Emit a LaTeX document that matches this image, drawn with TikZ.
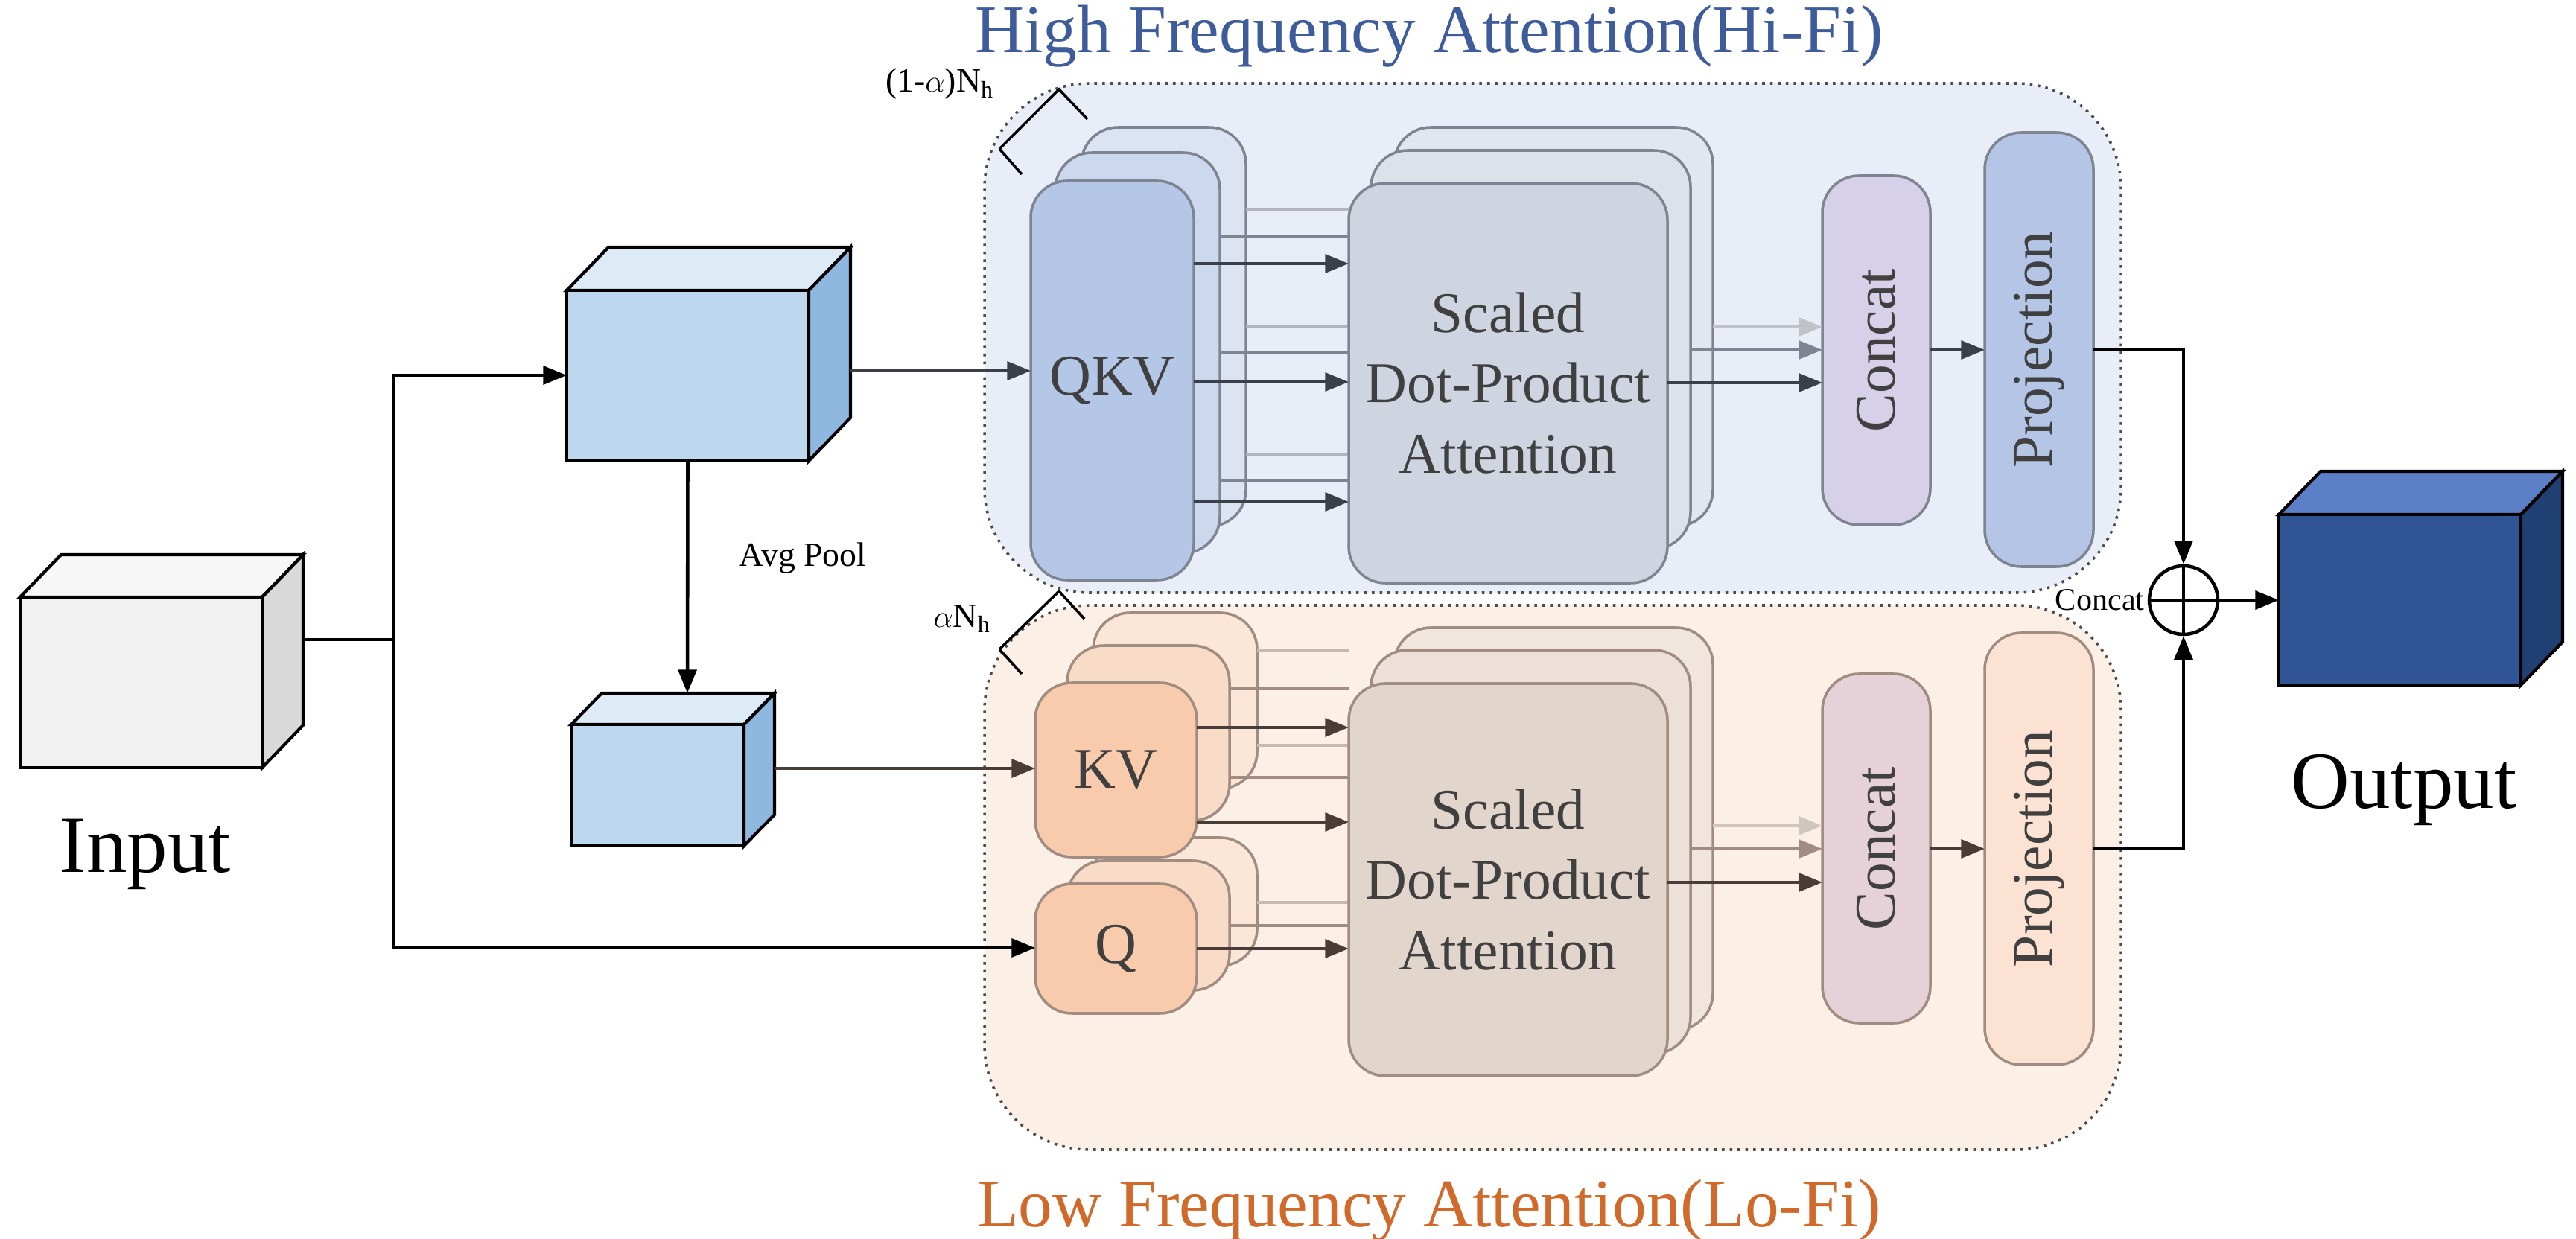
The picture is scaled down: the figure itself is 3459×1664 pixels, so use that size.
\documentclass[tikz,border=0pt]{standalone}
\usepackage{fontspec}
\setmainfont{Liberation Serif}
\usetikzlibrary{arrows.meta}
\definecolor{hibg}{HTML}{E8EDF7}
\definecolor{lobg}{HTML}{FCEFE6}
\definecolor{hiA}{HTML}{B4C7E7}
\definecolor{hiB}{HTML}{CCD8EE}
\definecolor{hiC}{HTML}{DCE3F2}
\definecolor{atA}{HTML}{CFD5E0}
\definecolor{atB}{HTML}{DCE1EA}
\definecolor{atC}{HTML}{E1E6EF}
\definecolor{loA}{HTML}{F7CBAC}
\definecolor{loB}{HTML}{F9DCC8}
\definecolor{loC}{HTML}{FBE6D8}
\definecolor{alA}{HTML}{E2D5CC}
\definecolor{alB}{HTML}{EDE0D8}
\definecolor{alC}{HTML}{F1E6DE}
\definecolor{hicon}{HTML}{D6D0E8}
\definecolor{hipro}{HTML}{B4C5E6}
\definecolor{locon}{HTML}{E6D1D8}
\definecolor{lopro}{HTML}{FBE2D3}
\definecolor{hiline}{HTML}{7F8590}
\definecolor{loline}{HTML}{A08C80}
\definecolor{hidark}{HTML}{3A3F4A}
\definecolor{lodark}{HTML}{4A3C36}
\definecolor{txt}{HTML}{404040}
\definecolor{hititle}{HTML}{3E5C9C}
\definecolor{lotitle}{HTML}{D0692A}
\definecolor{inF}{HTML}{F2F2F2}
\definecolor{inT}{HTML}{F7F7F7}
\definecolor{inS}{HTML}{D9D9D9}
\definecolor{bF}{HTML}{BDD7EE}
\definecolor{bT}{HTML}{DDEBF7}
\definecolor{bS}{HTML}{8FB8E0}
\definecolor{oF}{HTML}{2F5597}
\definecolor{oT}{HTML}{5B80C8}
\definecolor{oS}{HTML}{203F73}
\newcommand\bx[7]{\node[#6, minimum width={(#4-#2)*0.01cm}, minimum height={(#5-#3)*0.01cm}] (#1) at ({(#2+#4)/2},{(#3+#5)/2}) {#7};}
% x1 y1 x2 y2 dx dy prefix name
\newcommand\mycube[8]{%
 \draw[line width=1.2pt, fill=#7T] (#1,#2) -- ++(#5,-#6) -- ++({#3-#1},0) -- (#3,#2) -- cycle;
 \draw[line width=1.2pt, fill=#7S] (#3,#2) -- ++(#5,-#6) -- ++(0,{#4-#2}) -- (#3,#4) -- cycle;
 \bx{#8}{#1}{#2}{#3}{#4}{draw,line width=1.2pt,fill=#7F,inner sep=0pt,outer sep=0pt}{}}
\tikzset{
 rb/.style={draw=hiline, line width=1pt, rounded corners=14pt, inner sep=0pt, outer sep=0pt, text=txt, font=\fontsize{22}{27}\selectfont, align=center},
 lb/.style={rb, draw=loline},
 plain/.style={inner sep=0pt, outer sep=0pt},
 arr/.style={-{Triangle[length=9pt,width=7pt]}, line width=1.3pt},
 harr/.style={arr, hidark},
 larr/.style={arr, lodark},
 thin1/.style={line width=1pt},
 big label/.style={font=\fontsize{31}{36}\selectfont},
 title/.style={font=\fontsize{26}{31}\selectfont},
}
\begin{document}
\begin{tikzpicture}[x=0.01cm,y=-0.01cm]
\useasboundingbox (0,0) rectangle (3459,1664);
% backgrounds
\bx{hi}{1322}{112}{2848}{796}{draw=black!70,dotted,line width=1pt,fill=hibg,rounded corners=40pt,plain}{}
\bx{lo}{1322}{813}{2848}{1544}{draw=black!70,dotted,line width=1pt,fill=lobg,rounded corners=40pt,plain}{}
\node[title,text=hititle] (tHi) at (1919,49) {High Frequency Attention(Hi-Fi)};
\node[title,text=lotitle] (tLo) at (1919,1626) {Low Frequency Attention(Lo-Fi)};

% cubes
\mycube{27}{802}{352}{1031}{55}{57}{in}{inp}
\node[big label] (inpL) at (195,1147) {Input};
\mycube{761}{390}{1086}{619}{56}{58}{b}{big}
\mycube{767}{973}{999}{1136}{41}{42}{b}{small}
\mycube{3060}{691}{3385}{920}{56}{58}{o}{out}
\node[big label] (outL) at (3228,1061) {Output};

% ---------- Hi-Fi -------------
\bx{at3}{1872}{171}{2300}{707}{rb,fill=atC}{}
\bx{at2}{1841}{202}{2270}{737}{rb,fill=atB}{}
\bx{q3}{1452}{171}{1673}{707}{rb,fill=hiC}{}
\bx{q2}{1417}{205}{1638}{743}{rb,fill=hiB}{}
\foreach \y in {281,439,611} \draw[thin1,hiline!60] (q3.east |- 0,\y) -- (1811,\y);
\foreach \y in {318,474,645} \draw[thin1,hiline] (q2.east |- 0,\y) -- (1811,\y);
\bx{at}{1811}{246}{2239}{783}{rb,fill=atA}{Scaled\\Dot-Product\\Attention}
\bx{qkv}{1384}{243}{1603}{779}{rb,fill=hiA}{QKV}
\foreach \y in {354,513,674} \draw[harr] (qkv.east |- 0,\y) -- (at.west |- 0,\y);
\bx{hcon}{2447}{236}{2592}{705}{rb,fill=hicon}{}
\node[rotate=90,text=txt,font=\fontsize{22}{27}\selectfont] at (hcon) {Concat};
\bx{hpro}{2665}{178}{2811}{761}{rb,fill=hipro}{}
\node[rotate=90,text=txt,font=\fontsize{22}{27}\selectfont] at (hpro) {Projection};
\draw[arr,hiline!50] (at3.east |- 0,439) -- (hcon.west |- 0,439);
\draw[arr,hiline] (at2.east |- 0,470) -- (hcon.west |- 0,470);
\draw[harr] (at.east |- 0,514) -- (hcon.west |- 0,514);
\draw[harr] (hcon.east |- 0,470) -- (hpro.west |- 0,470);
\draw[thin1] (1342,200) -- (1372,234);
\draw[thin1] (1460,160) -- (1422,120) -- (1342,200);
\node[font=\fontsize{13}{15}\selectfont] (nh) at (1262,113) {(1-$\alpha$)N$_\mathrm{h}$};

% ---------- Lo-Fi -------------
\bx{al3}{1872}{843}{2300}{1383}{lb,fill=alC}{}
\bx{al2}{1841}{873}{2270}{1415}{lb,fill=alB}{}
\bx{kv3}{1468}{823}{1688}{1059}{lb,fill=loC}{}
\bx{kv2}{1433}{867}{1651}{1102}{lb,fill=loB}{}
\bx{qq3}{1468}{1125}{1688}{1297}{lb,fill=loC}{}
\bx{qq2}{1433}{1156}{1651}{1330}{lb,fill=loB}{}
\foreach \y in {874,1001} \draw[thin1,loline!60] (kv3.east |- 0,\y) -- (1811,\y);
\foreach \y in {925,1044} \draw[thin1,loline] (kv2.east |- 0,\y) -- (1811,\y);
\draw[thin1,loline!60] (qq3.east |- 0,1212) -- (1811,1212);
\draw[thin1,loline] (qq2.east |- 0,1243) -- (1811,1243);
\bx{al}{1811}{918}{2239}{1445}{lb,fill=alA}{Scaled\\Dot-Product\\Attention}
\bx{kv}{1390}{917}{1607}{1151}{lb,fill=loA}{KV}
\bx{qq}{1390}{1187}{1607}{1361}{lb,fill=loA}{Q}
\foreach \y in {977,1104} \draw[larr] (kv.east |- 0,\y) -- (al.west |- 0,\y);
\draw[larr] (qq.east |- 0,1274) -- (al.west |- 0,1274);
\bx{lcon}{2447}{905}{2592}{1374}{lb,fill=locon}{}
\node[rotate=90,text=txt,font=\fontsize{22}{27}\selectfont] at (lcon) {Concat};
\bx{lpro}{2665}{850}{2811}{1430}{lb,fill=lopro}{}
\node[rotate=90,text=txt,font=\fontsize{22}{27}\selectfont] at (lpro) {Projection};
\draw[arr,loline!50] (al3.east |- 0,1109) -- (lcon.west |- 0,1109);
\draw[arr,loline] (al2.east |- 0,1140) -- (lcon.west |- 0,1140);
\draw[larr] (al.east |- 0,1185) -- (lcon.west |- 0,1185);
\draw[larr] (lcon.east |- 0,1140) -- (lpro.west |- 0,1140);
\draw[thin1] (1342,872) -- (1372,905);
\draw[thin1] (1456,831) -- (1422,794) -- (1342,872);
\node[font=\fontsize{13}{15}\selectfont] (an) at (1292,831) {$\alpha$N$_\mathrm{h}$};

% ---------- merge -------------
\node[circle,draw,line width=1.3pt,fill=white,minimum size=92*0.01cm,inner sep=0pt] (plus) at (2932,806) {};
\draw[line width=1.3pt] (plus.north) -- (plus.south) (plus.west) -- (plus.east);
\node[anchor=east,font=\fontsize{12}{14}\selectfont,inner sep=1pt] (cl) at (plus.west) {Concat};
\draw[arr] (hpro.east |- 0,470) -| (plus.north);
\draw[arr] (lpro.east |- 0,1140) -| (plus.south);
\draw[arr] (plus.east) -- (out.west |- plus.east);

% ---------- input side -------------
\coordinate (jn) at (528,859);
\draw[line width=1.2pt] (407,859) -- (jn);
\draw[arr] (jn) |- (big.west |- 0,504);
\draw[arr] (jn) |- (qq.west |- 0,1273);
\draw[arr] (big.south) -- (923,931);
\node[font=\fontsize{13}{15}\selectfont] (avg) at (1078,750) {Avg Pool};
\draw[harr] (1142,498) -- (qkv.west |- 0,498);
\draw[arr,lodark] (1040,1032) -- (kv.west |- 0,1032);
\end{tikzpicture}
\end{document}
